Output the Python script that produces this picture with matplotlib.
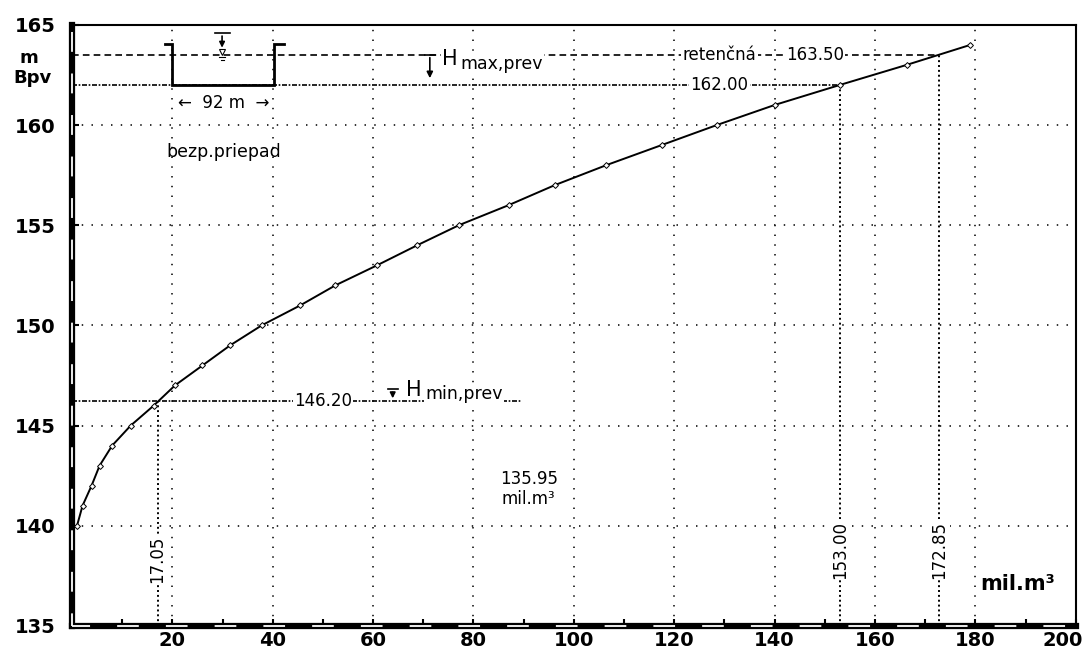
import matplotlib
matplotlib.use("Agg")
import matplotlib.pyplot as plt
import matplotlib.transforms as mtrans
from matplotlib.lines import Line2D

plt.rcParams['font.family'] = ['DejaVu Sans']

# ---- data ----
elev = [140, 141, 142, 143, 144, 145, 146, 147, 148, 149, 150, 151, 152,
        153, 154, 155, 156, 157, 158, 159, 160, 161, 162, 163, 164]
vol = [1.0, 2.1, 3.9, 5.5, 8.0, 11.7, 16.3, 20.5, 26.0, 31.5, 37.8, 45.5, 52.5,
       60.8, 68.8, 77.1, 87.0, 96.2, 106.5, 117.5, 128.5, 140.0, 153.0, 166.3, 179.0]

x_ticks = [0, 20, 40, 60, 80, 100, 120, 140, 160, 180, 200]
x_labels = ['', '20', '40', '60', '80', '100', '120', '140', '160', '180', '200']
y_ticks = [135, 140, 145, 150, 155, 160, 165]
y_labels = ['135', '140', '145', '150', '155', '160', '165']

h_ret = 163.50      # retention level
h_max = 162.00      # max operating level
h_min = 146.20      # min operating level
v_min = 17.05
v_max = 153.00
v_ret = 172.85
v_useful = 135.95
notch_x = [20.0, 40.2]

fig = plt.figure(figsize=(10.91, 6.54), dpi=100)
ax = fig.add_axes([0.066, 0.043, 0.920, 0.919])
ax.set_xlim(0, 200)
ax.set_ylim(135, 165)

# grid
ax.set_xticks(x_ticks)
ax.set_xticklabels(x_labels)
ax.set_yticks(y_ticks)
ax.set_yticklabels(y_labels)
ax.set_xticks(range(10, 200, 20), minor=True)
ax.grid(True, which='major', color='#222222', lw=1.3, linestyle=(0, (0.8, 4.6)))
ax.set_axisbelow(True)

for lab in ax.get_xticklabels() + ax.get_yticklabels():
    lab.set_fontweight('bold')
    lab.set_fontsize(14)
ax.tick_params(axis='x', which='both', direction='in', length=5, width=1.5, pad=4)
ax.tick_params(axis='y', which='both', direction='in', length=5, width=1.5, pad=12)

# spines
for s in ['top', 'right']:
    ax.spines[s].set_linewidth(1.5)
for s in ['left', 'bottom']:
    ax.spines[s].set_linewidth(4.5)
ax.add_line(Line2D([0, 0], [0.0, 1.0], transform=ax.transAxes, color='white',
                   lw=1.3, linestyle=(4, (11, 12)), clip_on=False, zorder=5))
ax.add_line(Line2D([0.0, 1.0], [0, 0], transform=ax.transAxes, color='white',
                   lw=1.3, linestyle=(2, (12, 15)), clip_on=False, zorder=5))

# reference lines
ax.plot([0, v_ret], [h_ret, h_ret], color='black', lw=1.2, linestyle=(0, (4, 2.5)), zorder=3)
ax.plot([0, v_max], [h_max, h_max], color='black', lw=1.2, linestyle=(0, (3, 1, 1, 1)), zorder=3)
ax.plot([0, 89.5], [h_min, h_min], color='black', lw=1.2, linestyle=(0, (3, 1, 1, 1)), zorder=3)
ax.plot([v_min, v_min], [135, h_min], color='black', lw=1.4, linestyle=(0, (1, 1.5)), zorder=3)
ax.plot([v_max, v_max], [135, h_max], color='black', lw=1.4, linestyle=(0, (1, 1.5)), zorder=3)
ax.plot([v_ret, v_ret], [135, h_ret], color='black', lw=1.4, linestyle=(0, (1, 1.5)), zorder=3)

# curve
ax.plot(vol, elev, color='black', lw=1.4, marker='D', ms=3, mfc='white',
        mec='black', mew=0.7, zorder=4)

# spillway sketch
lip_y = 164.03
ax.plot([18.5, notch_x[0], notch_x[0], notch_x[1], notch_x[1], 42.2],
        [lip_y, lip_y, h_max, h_max, lip_y, lip_y], color='black', lw=2, zorder=4,
        solid_joinstyle='miter')
ax.plot([28.4, 31.4], [164.58, 164.58], color='black', lw=1.2, zorder=4)
ax.annotate('', xy=(29.9, 163.72), xytext=(29.9, 164.58),
            arrowprops=dict(arrowstyle='-|>', color='black', lw=1.2, mutation_scale=8))
ax.plot([29.9], [163.63], marker='v', ms=4, mfc='white', mec='black', mew=0.8, zorder=4)
ax.plot([29.3, 30.5], [163.38, 163.38], color='black', lw=0.8, zorder=4)
ax.plot([29.6, 30.2], [163.25, 163.25], color='black', lw=0.8, zorder=4)
ax.text(30.2, 161.1, '←  92 m  →', ha='center', va='center', fontsize=12)
ax.text(30.2, 158.67, 'bezp.priepad', ha='center', va='center', fontsize=12.5)

wb = dict(facecolor='white', edgecolor='none', pad=1.0)

# H max
ax.plot([70.3, 72.3], [163.5, 163.5], color='black', lw=1.2, zorder=4)
ax.annotate('', xy=(71.3, 162.2), xytext=(71.3, 163.5),
            arrowprops=dict(arrowstyle='-|>', color='black', lw=1.2, mutation_scale=9))
ax.text(73.8, 162.98, 'H', fontsize=15, ha='left', va='baseline', bbox=wb, zorder=5)
ax.text(77.4, 162.8, 'max,prev', fontsize=12.5, ha='left', va='baseline', bbox=wb, zorder=5)

# H min
ax.plot([62.9, 64.9], [146.8, 146.8], color='black', lw=1.2, zorder=4)
ax.annotate('', xy=(63.9, 146.22), xytext=(63.9, 146.8),
            arrowprops=dict(arrowstyle='-|>', color='black', lw=1.2, mutation_scale=8))
ax.text(66.6, 146.45, 'H', fontsize=15, ha='left', va='baseline', zorder=5)
ax.text(70.4, 146.3, 'min,prev', fontsize=12.5, ha='left', va='baseline', bbox=wb, zorder=5)

# level labels
ax.text(129.0, h_ret, 'retenčná', fontsize=12, ha='center', va='center', bbox=wb, zorder=5)
ax.text(148.0, h_ret, f'{h_ret:.2f}', fontsize=12, ha='center', va='center', bbox=wb, zorder=5)
ax.text(129.0, h_max, f'{h_max:.2f}', fontsize=12, ha='center', va='center', bbox=wb, zorder=5)
ax.text(50.0, h_min, f'{h_min:.2f}', fontsize=12, ha='center', va='center', bbox=wb, zorder=5)

# volume labels (vertical)
ax.text(v_min, 138.3, f'{v_min:.2f}', fontsize=12, rotation=90, ha='center', va='center', bbox=wb, zorder=5)
ax.text(v_max, 138.8, f'{v_max:.2f}', fontsize=12, rotation=90, ha='center', va='center', bbox=wb, zorder=5)
ax.text(v_ret, 138.8, f'{v_ret:.2f}', fontsize=12, rotation=90, ha='center', va='center', bbox=wb, zorder=5)

# useful volume
ax.text(91.0, 142.35, f'{v_useful:.2f}', fontsize=12, ha='center', va='center')
ax.text(91.0, 141.35, 'mil.m³', fontsize=12, ha='center', va='center')

# axis units
ax.text(188.5, 137.1, 'mil.m³', fontsize=15, weight='bold', ha='center', va='center')
ax.text(-0.043, 0.945, 'm', transform=ax.transAxes, fontsize=13, weight='bold',
        ha='center', va='center')
ax.text(-0.039, 0.912, 'Bpv', transform=ax.transAxes, fontsize=13, weight='bold',
        ha='center', va='center')

# keep the last x label inside the figure
last = ax.xaxis.get_major_ticks()[-1].label1
last.set_transform(last.get_transform() + mtrans.ScaledTranslation(-0.13, 0, fig.dpi_scale_trans))

fig.savefig('out.png', dpi=100)
